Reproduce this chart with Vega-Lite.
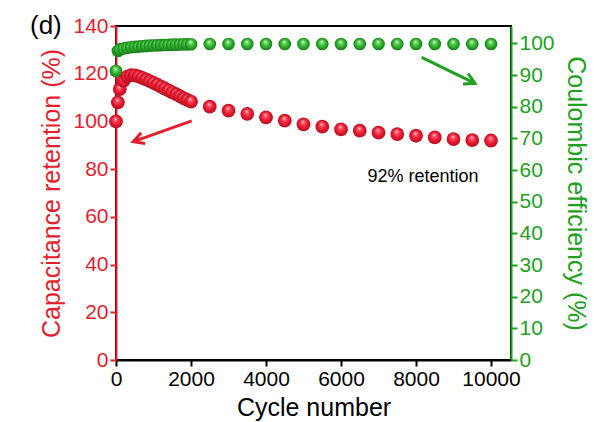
{
  "$schema": "https://vega.github.io/schema/vega-lite/v6.json",
  "width": 395,
  "height": 334,
  "autosize": "none",
  "padding": {"left": 116, "top": 26, "right": 83, "bottom": 62},
  "background": "white",
  "title": {"text": "(d)", "anchor": "start", "frame": "group", "dx": -86, "dy": 45, "fontSize": 26, "fontWeight": "normal", "font": "Liberation Sans", "color": "black", "baseline": "alphabetic", "offset": 0},
  "config": {
    "view": {"stroke": "black", "strokeWidth": 2},
    "axis": {"labelFont": "Liberation Sans", "titleFont": "Liberation Sans", "labelFontSize": 21, "titleFontSize": 25, "titleFontWeight": "normal", "grid": false, "domainWidth": 2, "tickWidth": 2, "tickSize": 6, "labelPadding": 2, "labelOverlap": false, "labelBound": false},
    "axisRight": {"tickCount": 11}
  },
  "datasets": {
    "cycles": [
      {"cycle": 0, "retention": 100, "efficiency": 91.3},
      {"cycle": 50, "retention": 108, "efficiency": 97.6},
      {"cycle": 100, "retention": 113.5, "efficiency": 98.1},
      {"cycle": 200, "retention": 117, "efficiency": 98.4},
      {"cycle": 300, "retention": 118.8, "efficiency": 98.6},
      {"cycle": 400, "retention": 119.4, "efficiency": 98.8},
      {"cycle": 500, "retention": 119.3, "efficiency": 98.9},
      {"cycle": 600, "retention": 118.9, "efficiency": 99.0},
      {"cycle": 700, "retention": 118.3, "efficiency": 99.1},
      {"cycle": 800, "retention": 117.6, "efficiency": 99.2},
      {"cycle": 900, "retention": 116.9, "efficiency": 99.3},
      {"cycle": 1000, "retention": 116.2, "efficiency": 99.35},
      {"cycle": 1100, "retention": 115.4, "efficiency": 99.4},
      {"cycle": 1200, "retention": 114.6, "efficiency": 99.45},
      {"cycle": 1300, "retention": 113.8, "efficiency": 99.5},
      {"cycle": 1400, "retention": 113.0, "efficiency": 99.55},
      {"cycle": 1500, "retention": 112.2, "efficiency": 99.6},
      {"cycle": 1600, "retention": 111.4, "efficiency": 99.6},
      {"cycle": 1700, "retention": 110.6, "efficiency": 99.65},
      {"cycle": 1800, "retention": 109.8, "efficiency": 99.7},
      {"cycle": 1900, "retention": 109.0, "efficiency": 99.7},
      {"cycle": 2000, "retention": 108.3, "efficiency": 99.75},
      {"cycle": 2500, "retention": 106.2, "efficiency": 99.8},
      {"cycle": 3000, "retention": 104.5, "efficiency": 99.8},
      {"cycle": 3500, "retention": 103.2, "efficiency": 99.8},
      {"cycle": 4000, "retention": 101.7, "efficiency": 99.8},
      {"cycle": 4500, "retention": 100.3, "efficiency": 99.8},
      {"cycle": 5000, "retention": 98.8, "efficiency": 99.8},
      {"cycle": 5500, "retention": 97.8, "efficiency": 99.8},
      {"cycle": 6000, "retention": 96.7, "efficiency": 99.8},
      {"cycle": 6500, "retention": 96.1, "efficiency": 99.8},
      {"cycle": 7000, "retention": 95.3, "efficiency": 99.8},
      {"cycle": 7500, "retention": 94.7, "efficiency": 99.8},
      {"cycle": 8000, "retention": 94.0, "efficiency": 99.8},
      {"cycle": 8500, "retention": 93.3, "efficiency": 99.8},
      {"cycle": 9000, "retention": 92.6, "efficiency": 99.8},
      {"cycle": 9500, "retention": 92.2, "efficiency": 99.8},
      {"cycle": 10000, "retention": 92.0, "efficiency": 99.8}
    ],
    "redArrow": [{"x1": 2019, "y1": 100.2, "x2": 461, "y2": 91.5}],
    "greenArrow": [{"x1": 8152, "y1": 95.6, "x2": 9573, "y2": 87.4}],
    "note": [{"cycle": 8187, "value": 76.8, "label": "92% retention"}]
  },
  "layer": [
    {
      "layer": [
        {
          "data": {"name": "cycles"},
          "mark": {"type": "circle", "size": 190, "opacity": 1, "strokeWidth": 0,
            "fill": {"gradient": "radial", "x1": 0.45, "y1": 0.3, "r1": 0, "x2": 0.5, "y2": 0.5, "r2": 0.5,
              "stops": [{"offset": 0, "color": "#ffe8ec"}, {"offset": 0.25, "color": "#ff5468"}, {"offset": 0.6, "color": "#ec1c34"}, {"offset": 1, "color": "#b2101f"}]}},
          "encoding": {
            "x": {"field": "cycle", "type": "quantitative", "scale": {"domain": [0, 10533], "nice": false, "zero": false},
              "axis": {"values": [0, 2000, 4000, 6000, 8000, 10000], "format": "d", "title": "Cycle number", "labelFlush": false, "domainColor": "black", "tickColor": "black", "labelColor": "black", "titleColor": "black", "titlePadding": 6}},
            "y": {"field": "retention", "type": "quantitative", "scale": {"domain": [0, 140], "nice": false, "zero": false},
              "axis": {"orient": "left", "values": [0, 20, 40, 60, 80, 100, 120, 140], "title": "Capacitance retention (%)", "domainColor": "#e41e2e", "tickColor": "#e41e2e", "labelColor": "#e41e2e", "titleColor": "#e41e2e", "titlePadding": 8}}
          }
        },
        {
          "data": {"name": "redArrow"},
          "mark": {"type": "rule", "color": "#e41e2e", "strokeWidth": 3},
          "encoding": {
            "x": {"field": "x1", "type": "quantitative"},
            "y": {"field": "y1", "type": "quantitative"},
            "x2": {"field": "x2"},
            "y2": {"field": "y2"}
          }
        },
        {
          "data": {"name": "redArrow"},
          "mark": {"type": "point", "shape": "M -0.55 1 L 0 0 L 0.55 1", "filled": false, "stroke": "#e41e2e", "strokeWidth": 3, "size": 441, "opacity": 1, "angle": 250},
          "encoding": {
            "x": {"field": "x2", "type": "quantitative"},
            "y": {"field": "y2", "type": "quantitative"}
          }
        },
        {
          "data": {"name": "note"},
          "mark": {"type": "text", "fontSize": 18, "font": "Liberation Sans", "color": "black", "baseline": "middle", "align": "center"},
          "encoding": {
            "x": {"field": "cycle", "type": "quantitative"},
            "y": {"field": "value", "type": "quantitative"},
            "text": {"field": "label"}
          }
        }
      ]
    },
    {
      "layer": [
        {
          "data": {"name": "cycles"},
          "mark": {"type": "circle", "size": 160, "opacity": 1, "strokeWidth": 0,
            "fill": {"gradient": "radial", "x1": 0.45, "y1": 0.3, "r1": 0, "x2": 0.5, "y2": 0.5, "r2": 0.5,
              "stops": [{"offset": 0, "color": "#eaffe4"}, {"offset": 0.25, "color": "#74d86c"}, {"offset": 0.6, "color": "#30b430"}, {"offset": 1, "color": "#187a18"}]}},
          "encoding": {
            "x": {"field": "cycle", "type": "quantitative"},
            "y": {"field": "efficiency", "type": "quantitative", "scale": {"domain": [0, 105.5], "nice": false, "zero": false},
              "axis": {"orient": "right", "values": [0, 10, 20, 30, 40, 50, 60, 70, 80, 90, 100], "labelOverlap": false, "title": "Coulombic efficiency (%)", "domainColor": "#1fa01f", "tickColor": "#1fa01f", "labelColor": "#1fa01f", "titleColor": "#1fa01f", "titlePadding": 8}}
          }
        },
        {
          "data": {"name": "greenArrow"},
          "mark": {"type": "rule", "color": "#1fa01f", "strokeWidth": 3},
          "encoding": {
            "x": {"field": "x1", "type": "quantitative"},
            "y": {"field": "y1", "type": "quantitative",
              "axis": {"orient": "right", "values": [0, 10, 20, 30, 40, 50, 60, 70, 80, 90, 100], "labelOverlap": false, "title": "Coulombic efficiency (%)", "domainColor": "#1fa01f", "tickColor": "#1fa01f", "labelColor": "#1fa01f", "titleColor": "#1fa01f", "titlePadding": 8}},
            "x2": {"field": "x2"},
            "y2": {"field": "y2"}
          }
        },
        {
          "data": {"name": "greenArrow"},
          "mark": {"type": "point", "shape": "M -0.55 1 L 0 0 L 0.55 1", "filled": false, "stroke": "#1fa01f", "strokeWidth": 3, "size": 441, "opacity": 1, "angle": 116},
          "encoding": {
            "x": {"field": "x2", "type": "quantitative"},
            "y": {"field": "y2", "type": "quantitative",
              "axis": {"orient": "right", "values": [0, 10, 20, 30, 40, 50, 60, 70, 80, 90, 100], "labelOverlap": false, "title": "Coulombic efficiency (%)", "domainColor": "#1fa01f", "tickColor": "#1fa01f", "labelColor": "#1fa01f", "titleColor": "#1fa01f", "titlePadding": 8}}
          }
        }
      ]
    }
  ],
  "resolve": {"scale": {"y": "independent"}}
}
